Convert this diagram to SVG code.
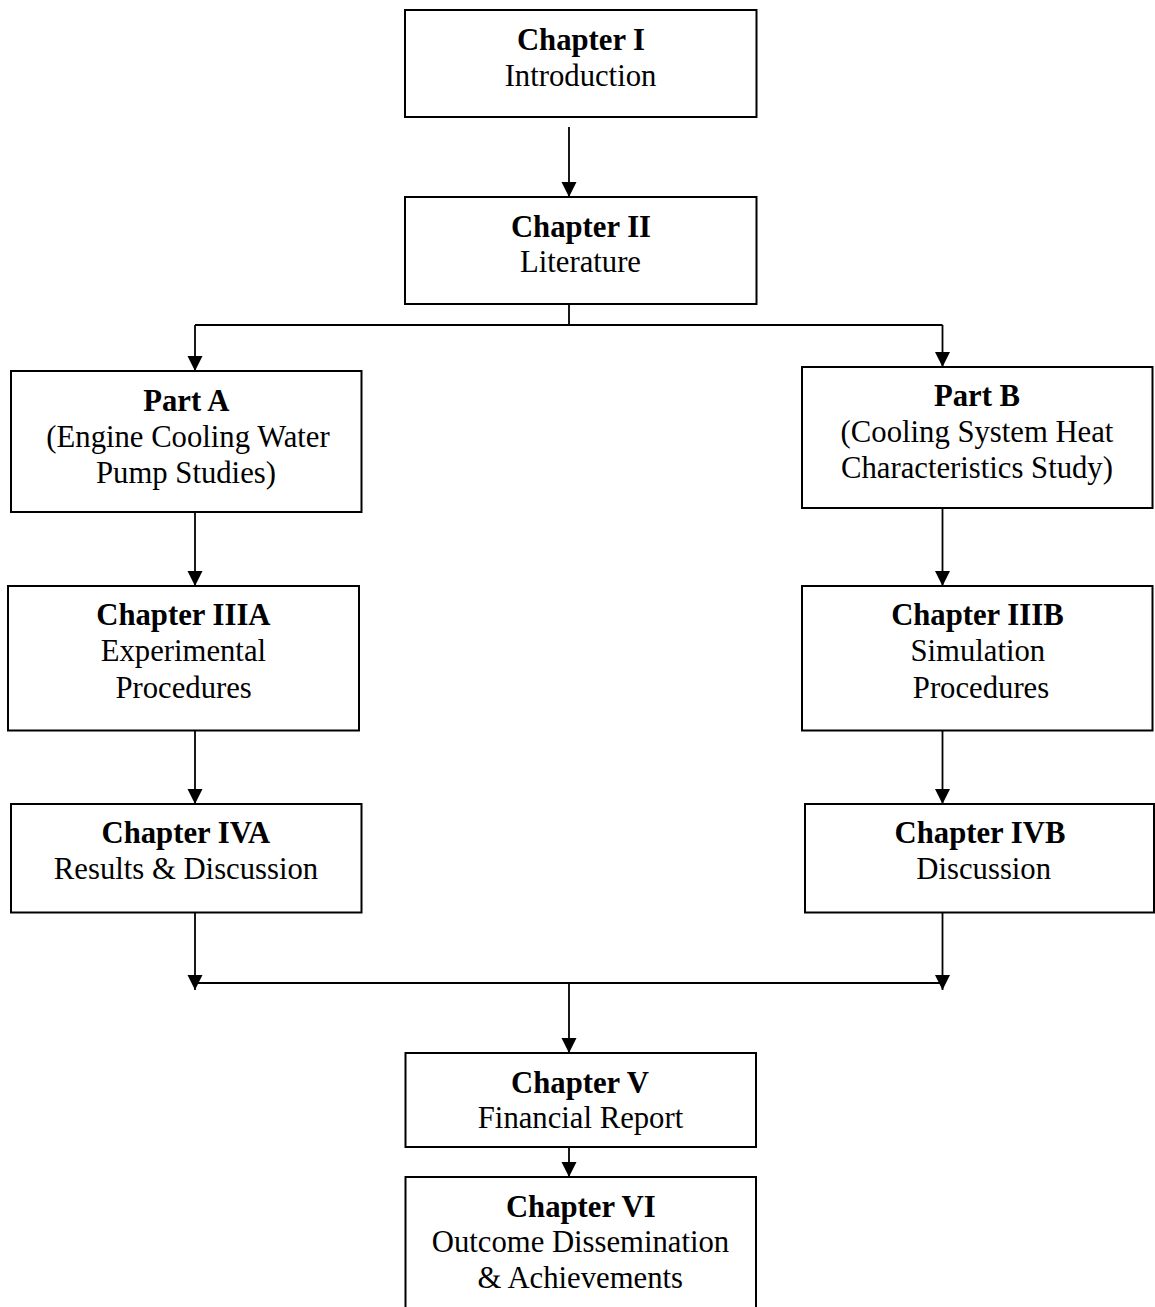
<svg xmlns="http://www.w3.org/2000/svg" width="1155" height="1307" viewBox="0 0 1155 1307">
<style>
.box{fill:#fff;stroke:#000;stroke-width:2}
.c{fill:none;stroke:#000;stroke-width:1.8}
text{font-family:"Liberation Serif","Times New Roman",serif;font-size:30.7px;fill:#000;text-anchor:middle}
.b{font-weight:bold}
</style>
<defs>
<marker id="ah" markerUnits="userSpaceOnUse" markerWidth="16" markerHeight="16" refX="15" refY="7.5" orient="auto">
<path d="M0,0 L15,7.5 L0,15 z" fill="#000"/>
</marker>
</defs>
<rect width="1155" height="1307" fill="#fff"/>
<g id="connectors">
<line class="c" x1="569" y1="127" x2="569" y2="197" marker-end="url(#ah)"/>
<path class="c" d="M569,304 V325 M195,325 H942.5"/>
<line class="c" x1="195" y1="325" x2="195" y2="371" marker-end="url(#ah)"/>
<line class="c" x1="942.5" y1="325" x2="942.5" y2="367" marker-end="url(#ah)"/>
<line class="c" x1="195" y1="512" x2="195" y2="586" marker-end="url(#ah)"/>
<line class="c" x1="942.5" y1="508" x2="942.5" y2="586" marker-end="url(#ah)"/>
<line class="c" x1="195" y1="726" x2="195" y2="804" marker-end="url(#ah)"/>
<line class="c" x1="942.5" y1="726" x2="942.5" y2="804" marker-end="url(#ah)"/>
<line class="c" x1="195" y1="913" x2="195" y2="990" marker-end="url(#ah)"/>
<line class="c" x1="942.5" y1="913" x2="942.5" y2="990" marker-end="url(#ah)"/>
<path class="c" d="M195,983 H942.5"/>
<line class="c" x1="569" y1="983" x2="569" y2="1053" marker-end="url(#ah)"/>
<line class="c" x1="569" y1="1147" x2="569" y2="1177" marker-end="url(#ah)"/>
</g>
<g id="ch1">
<rect class="box" x="405" y="10" width="351.5" height="107"/>
<text class="b" x="581" y="50">Chapter I</text>
<text x="580.5" y="86">Introduction</text>
</g>
<g id="ch2">
<rect class="box" x="405" y="197" width="351.5" height="107"/>
<text class="b" x="581" y="236.7">Chapter II</text>
<text x="580.5" y="271.7">Literature</text>
</g>
<g id="partA">
<rect class="box" x="11" y="371" width="350.5" height="141"/>
<text class="b" x="186.3" y="411">Part A</text>
<text x="188" y="447">(Engine Cooling Water</text>
<text x="186" y="483">Pump Studies)</text>
</g>
<g id="partB">
<rect class="box" x="802" y="367" width="350.5" height="141"/>
<text class="b" x="977" y="406">Part B</text>
<text x="977" y="442">(Cooling System Heat</text>
<text x="977" y="478">Characteristics Study)</text>
</g>
<g id="ch3a">
<rect class="box" x="8" y="586" width="351" height="144.5"/>
<text class="b" x="183.4" y="625">Chapter IIIA</text>
<text x="183.4" y="661">Experimental</text>
<text x="183.6" y="697.5">Procedures</text>
</g>
<g id="ch3b">
<rect class="box" x="802" y="586" width="350.5" height="144.5"/>
<text class="b" x="977.4" y="625">Chapter IIIB</text>
<text x="977.8" y="661">Simulation</text>
<text x="981" y="697.5">Procedures</text>
</g>
<g id="ch4a">
<rect class="box" x="11" y="804" width="350.5" height="108.5"/>
<text class="b" x="185.8" y="843.3">Chapter IVA</text>
<text x="186" y="879.3">Results &amp; Discussion</text>
</g>
<g id="ch4b">
<rect class="box" x="805" y="804" width="349" height="108.5"/>
<text class="b" x="980" y="843.3">Chapter IVB</text>
<text x="983.7" y="879.3">Discussion</text>
</g>
<g id="ch5">
<rect class="box" x="405.5" y="1053" width="350.5" height="94"/>
<text class="b" x="580" y="1092.7">Chapter V</text>
<text x="580.5" y="1128.3">Financial Report</text>
</g>
<g id="ch6">
<rect class="box" x="405.5" y="1177" width="350.5" height="160"/>
<text class="b" x="580.8" y="1216.7">Chapter VI</text>
<text x="580.5" y="1252.3">Outcome Dissemination</text>
<text x="580.3" y="1288.3">&amp; Achievements</text>
</g>
</svg>
